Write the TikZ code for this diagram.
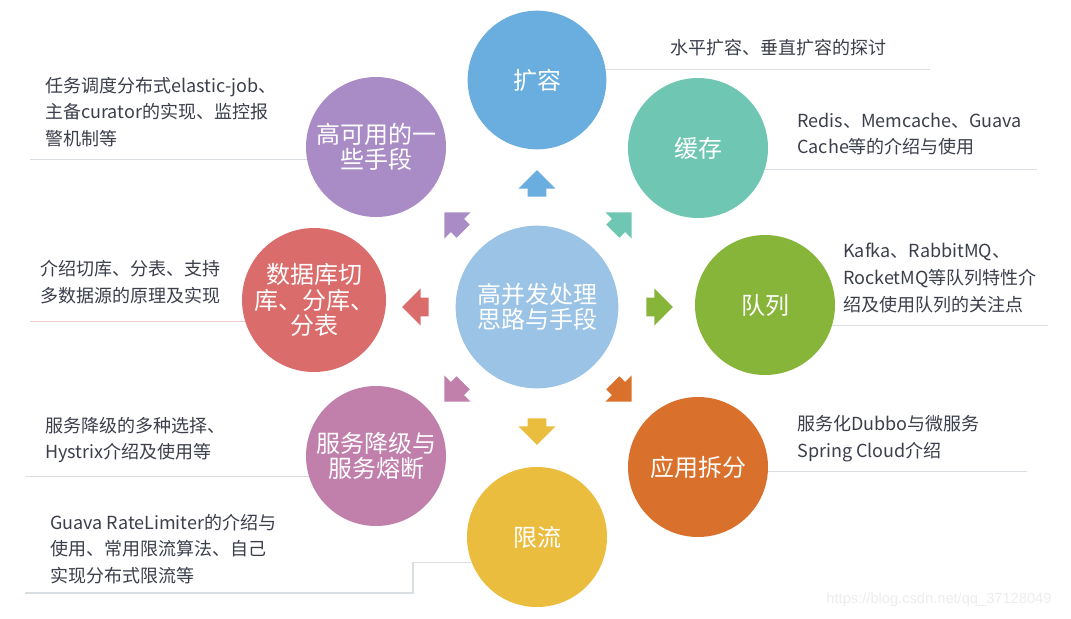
\documentclass[tikz,border=0pt]{standalone}
\usepackage{fontspec}
\setmainfont{Noto Sans CJK SC}
\newfontfamily\wmfont{Liberation Sans}
\usetikzlibrary{shapes.arrows}
\definecolor{cMid}{HTML}{9AC3E6}
\definecolor{cKr}{HTML}{6AAEE0}
\definecolor{cHc}{HTML}{6FC7B3}
\definecolor{cDl}{HTML}{87B53A}
\definecolor{cYy}{HTML}{D9702B}
\definecolor{cXl}{HTML}{EBBD3F}
\definecolor{cFw}{HTML}{C17FAB}
\definecolor{cSj}{HTML}{DB6C6C}
\definecolor{cGk}{HTML}{A98CC5}
\definecolor{txt}{HTML}{3B3F4B}
\definecolor{lineg}{HTML}{D8DEE2}
\definecolor{linep}{HTML}{F2CDCD}

\begin{document}
\begin{tikzpicture}[x=0.75pt,y=-0.75pt,
  ball/.style={circle,fill=#1,minimum size=105pt,inner sep=0pt,text=white,align=center,font=\fontsize{18}{19}\selectfont},
  note/.style={anchor=west,align=left,inner sep=0pt,text=txt,font=\fontsize{13.5}{20}\selectfont},
  guide/.style={draw=lineg,line width=0.8pt},
  fat/.style={single arrow,fill=#1,minimum height=20pt,single arrow head extend=7pt,inner xsep=0pt,inner ysep=6.75pt}]
\useasboundingbox[fill=white] (0,0) rectangle (1071,618);

\node[ball=cMid,minimum size=122pt] (mid) at (537,307) {高并发处理\\思路与手段};
\node[ball=cKr,minimum size=104pt] (kr) at (537,80) {扩容};
\node[ball=cHc] (hc) at (698,148) {缓存};
\node[ball=cDl] (dl) at (765,305) {队列};
\node[ball=cYy] (yy) at (698,467) {应用拆分};
\node[ball=cXl] (xl) at (537,537) {限流};
\node[ball=cFw] (fw) at (376,456) {服务降级与\\服务熔断};
\node[ball=cSj,minimum size=108pt] (sj) at (314,300) {数据库切\\库、分库、\\分表};
\node[ball=cGk] (gk) at (376,147) {高可用的一\\些手段};

\node[fat=cKr,rotate=90] (aN) at (537,188) {};
\node[fat=cHc,rotate=45] (aNE) at (619,225) {};
\node[fat=cDl] (aE) at (655,307) {};
\node[fat=cYy,rotate=-45] (aSE) at (619,389) {};
\node[fat=cXl,rotate=-90] (aS) at (537,427) {};
\node[fat=cFw,rotate=-135] (aSW) at (457,389) {};
\node[fat=cSj,rotate=180] (aW) at (420,307) {};
\node[fat=cGk,rotate=135] (aNW) at (457,225) {};

\node[note] (tKr) at (670,48) {水平扩容、垂直扩容的探讨};
\node[note] (tHc) at (797,134) {Redis、Memcache、Guava\\Cache等的介绍与使用};
\node[note] (tDl) at (843,278) {Kafka、RabbitMQ、\\RocketMQ等队列特性介\\绍及使用队列的关注点};
\node[note] (tYy) at (797,439) {服务化Dubbo与微服务\\Spring Cloud介绍};
\node[note] (tXl) at (50,549) {Guava RateLimiter的介绍与\\使用、常用限流算法、自己\\实现分布式限流等};
\node[note] (tFw) at (45,440) {服务降级的多种选择、\\Hystrix介绍及使用等};
\node[note] (tSj) at (40,282) {介绍切库、分表、支持\\多数据源的原理及实现};
\node[note] (tGk) at (45,112) {任务调度分布式elastic-job、\\主备curator的实现、监控报\\警机制等};

\coordinate (eKr) at (930,69);
\coordinate (eHc) at (1037,169);
\coordinate (eDl) at (1048,326);
\coordinate (eYy) at (1027,472);
\coordinate (eGk) at (30,159);
\coordinate (eSj) at (30,321);
\coordinate (eFw) at (25,476);
\coordinate (bXl) at (413,593);
\coordinate (eXl) at (25,593);

\draw[guide] (kr.9) -- (kr.9 -| eKr);
\draw[guide] (hc.-18) -- (hc.-18 -| eHc);
\draw[guide] (dl.-17) -- (dl.-17 -| eDl);
\draw[guide] (yy.-4) -- (yy.-4 -| eYy);
\draw[guide] (gk.190) -- (gk.190 -| eGk);
\draw[guide,draw=linep] (sj.197) -- (sj.197 -| eSj);
\draw[guide] (fw.197) -- (fw.197 -| eFw);
\draw[guide] (xl.201) -- (xl.201 -| bXl) -- (bXl) -- (eXl);

\node[text=gray!14,font=\wmfont\fontsize{11}{13}\selectfont] (wm) at (939,600) {https://blog.csdn.net/qq\_37128049};
\end{tikzpicture}
\end{document}
